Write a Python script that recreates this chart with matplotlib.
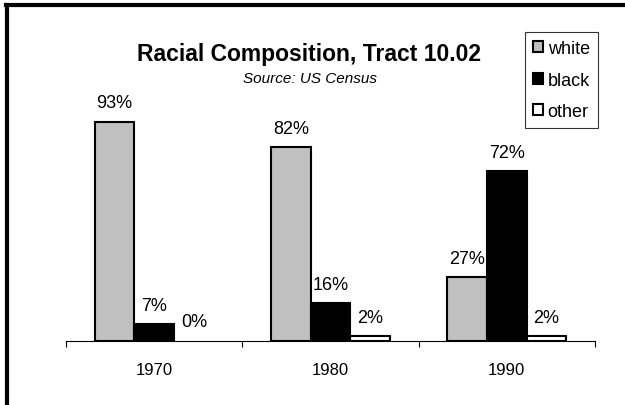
import matplotlib
matplotlib.use("Agg")
import matplotlib.pyplot as plt
from matplotlib.lines import Line2D
from matplotlib.patches import Patch
import numpy as np

plt.rcParams['font.family'] = ['Liberation Sans', 'DejaVu Sans']

years = ['1970', '1980', '1990']
series = ['white', 'black', 'other']
white = [93, 82, 27]
black = [7, 16, 72]
other = [0, 2, 2]
colors = ['#C0C0C0', '#000000', '#FFFFFF']

W, H = 625, 406
fig = plt.figure(figsize=(W / 100, H / 100), dpi=100)
ax = fig.add_axes([66 / W, 64 / H, 529 / W, 236 / H])

x = np.arange(len(years))
bw = 0.225
for i, (vals, col, name) in enumerate(zip([white, black, other], colors, series)):
    lws = [1.5 if v > 0 else 0 for v in vals]
    ax.bar(x + (i - 1) * bw, vals, width=bw, color=col, edgecolor='black',
           linewidth=lws, label=name, zorder=3)
    for xi, v in zip(x + (i - 1) * bw, vals):
        ax.annotate(f"{v}%", (xi, v), xytext=(0, 13.7), textcoords='offset points',
                    ha='center', va='center', fontsize=13)

ax.set_xlim(-0.5, 2.5)
ax.set_ylim(0, 100)
for s in ['top', 'right', 'left']:
    ax.spines[s].set_visible(False)
ax.spines['bottom'].set_linewidth(0.8)
ax.set_yticks([])
ax.set_xticks(x)
ax.set_xticklabels(years, fontsize=12)
ax.tick_params(axis='x', which='major', length=0, pad=15)
ax.set_xticks([-0.5, 0.5, 1.5, 2.5], minor=True)
ax.tick_params(axis='x', which='minor', length=4, width=0.8, direction='out')

fig.text(309 / W, 1 - 55 / H, 'Racial Composition, Tract 10.02', ha='center', va='center',
         fontsize=16.5, fontweight='bold')
fig.text(310 / W, 1 - 79 / H, 'Source: US Census', ha='center', va='center',
         fontsize=11, style='italic')

handles = [Patch(facecolor=c, edgecolor='black', linewidth=1.5) for c in colors]
leg = fig.legend(handles=handles, labels=series, loc='upper left',
                 bbox_to_anchor=(525 / W, 1 - 33 / H), fontsize=13,
                 handlelength=0.55, handleheight=0.55, handletextpad=0.25,
                 labelspacing=0.8, borderpad=0.45, borderaxespad=0,
                 frameon=True, fancybox=False, edgecolor='black')
leg.get_frame().set_linewidth(0.8)

# outer frame (open to the right and bottom, as in the reference)
fig.add_artist(Line2D([7 / W, 7 / W], [0, 1 - 6 / H], transform=fig.transFigure,
                      color='black', linewidth=3))
fig.add_artist(Line2D([5.5 / W, 1], [1 - 6 / H, 1 - 6 / H], transform=fig.transFigure,
                      color='black', linewidth=3))

fig.savefig('out.png', dpi=100)
